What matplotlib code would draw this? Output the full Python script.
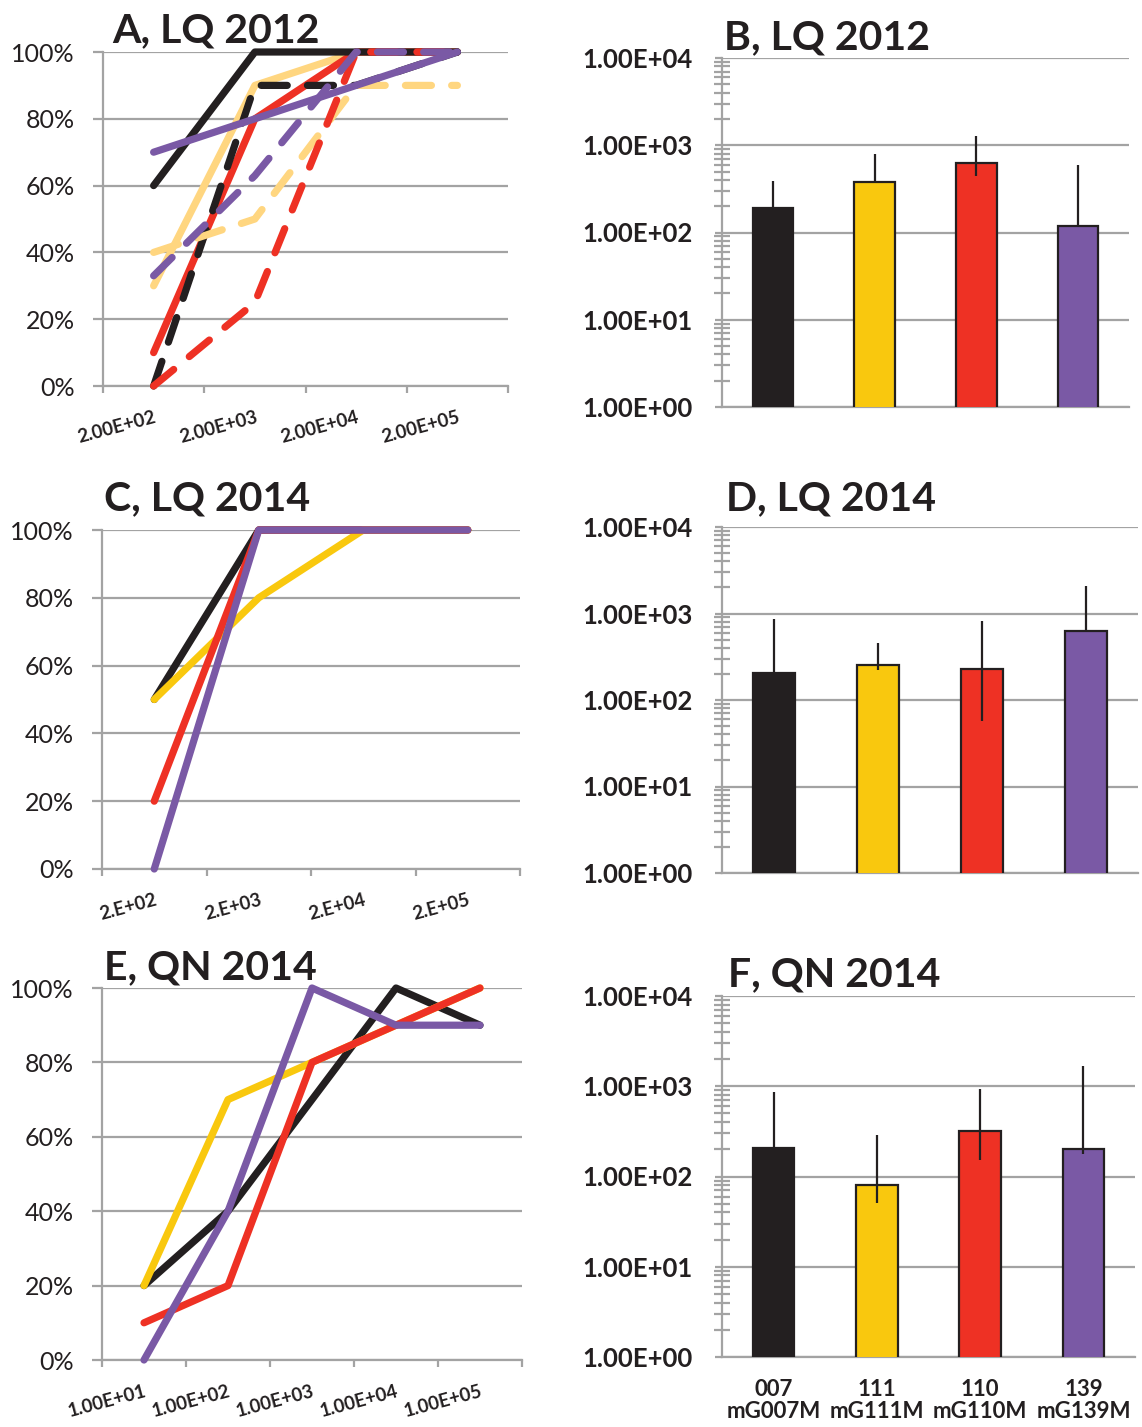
import matplotlib
matplotlib.use("Agg")
import matplotlib.pyplot as plt
import numpy as np
from matplotlib.ticker import LogLocator, NullFormatter

W, H = 1142, 1427
DPI = 100
plt.rcParams['font.family'] = ['Lato', 'DejaVu Sans']

# ---------------- data ----------------
# Panel A: LQ 2012 detection rate (%) by spike level
cats_a = ["2.00E+02", "2.00E+03", "2.00E+04", "2.00E+05"]
a_007_solid = [60, 100, 100, 100]
a_007_dash = [0, 90, 90, 100]
a_111_solid = [30, 90, 100, 100]
a_111_dash = [40, 50, 90, 90]
a_110_solid = [10, 80, 100, 100]
a_110_dash = [0, 25, 100, 100]
a_139_solid = [70, 80, 90, 100]
a_139_dash = [33, 63, 100, 100]

# Panel C: LQ 2014
cats_c = ["2.E+02", "2.E+03", "2.E+04", "2.E+05"]
c_007 = [50, 100, 100, 100]
c_111 = [50, 80, 100, 100]
c_110 = [20, 100, 100, 100]
c_139 = [0, 100, 100, 100]

# Panel E: QN 2014
cats_e = ["1.00E+01", "1.00E+02", "1.00E+03", "1.00E+04", "1.00E+05"]
e_007 = [20, 40, 70, 100, 90]
e_111 = [20, 70, 80, 90, 100]
e_110 = [10, 20, 80, 90, 100]
e_139 = [0, 40, 100, 90, 90]

# Bar panels: value, lower and upper error limits
bar_groups = ["007\nmG007M", "111\nmG111M", "110\nmG110M", "139\nmG139M"]
b_vals = [193, 380, 630, 119]
b_low = [193, 380, 445, 119]
b_high = [390, 800, 1270, 590]

d_vals = [204, 251, 226, 625]
d_low = [204, 224, 57, 605]
d_high = [860, 450, 810, 2090]

f_vals = [206, 80, 323, 202]
f_low = [206, 51, 153, 177]
f_high = [870, 289, 934, 1690]

# ---------------- style ----------------
BLACK = '#231F20'
GOLD = '#F9C80E'
LIGHT = '#FFD680'
RED = '#EE3124'
PURPLE = '#7A59A5'
GRID = '#A3A3A3'
TXT = '#231F20'

fig = plt.figure(figsize=(W / DPI, H / DPI), dpi=DPI)


def rect(x0, y0, x1, y1):
    return [x0 / W, 1 - y1 / H, (x1 - x0) / W, (y1 - y0) / H]


def title(x, baseline, text):
    fig.text(x / W, 1 - baseline / H, text, ha='left', va='baseline',
             fontsize=29.5, fontweight='bold', color=TXT)


def line_panel(r, cats, series):
    ax = fig.add_axes(rect(*r))
    n = len(cats)
    x = np.arange(n)
    for vals, color, dashed in series:
        ax.plot(x, vals, color=color, lw=5.2,
                linestyle=(0, (3.6, 2.8)) if dashed else '-',
                solid_capstyle='round', solid_joinstyle='round',
                dash_capstyle='round', dash_joinstyle='round',
                clip_on=False, zorder=3)
    ax.set_xlim(-0.5, n - 0.5)
    ax.set_ylim(0, 100)
    ax.set_yticks(range(0, 101, 20))
    ax.set_yticklabels([f"{v}%" for v in range(0, 101, 20)])
    ax.yaxis.grid(True, color=GRID, lw=1.6)
    ax.set_axisbelow(True)
    for s in ('top', 'right'):
        ax.spines[s].set_visible(False)
    for s in ('left', 'bottom'):
        ax.spines[s].set_color(GRID)
        ax.spines[s].set_linewidth(1.6)
    ax.set_xticks(x)
    ax.set_xticklabels(cats, rotation=15, ha='right', rotation_mode='anchor',
                       fontsize=13.5, fontweight='bold', color=TXT)
    ax.set_xticks(np.arange(n + 1) - 0.5, minor=True)
    ax.tick_params(axis='x', which='major', length=0, pad=16)
    ax.tick_params(axis='x', which='minor', length=5, width=1.6, color=GRID)
    ax.tick_params(axis='y', length=7, width=1.6, color=GRID, pad=13.5,
                   labelsize=18, labelcolor=TXT)
    return ax


def bar_panel(r, vals, low, high, labels=None):
    ax = fig.add_axes(rect(*r))
    x = np.arange(len(vals))
    vals = np.array(vals, float)
    ax.bar(x, vals, width=0.4, color=[BLACK, GOLD, RED, PURPLE],
           edgecolor=BLACK, linewidth=1.6, zorder=3)
    yerr = [vals - np.array(low, float), np.array(high, float) - vals]
    ax.errorbar(x, vals, yerr=yerr, fmt='none', ecolor=BLACK,
                elinewidth=1.6, capsize=0, zorder=4)
    ax.set_yscale('log')
    ax.set_ylim(1, 1e4)
    ax.set_xlim(-0.5, len(vals) - 0.5)
    ticks = [1, 10, 100, 1000, 10000]
    ax.set_yticks(ticks)
    ax.set_yticklabels([f"{t:.2E}" for t in ticks], fontweight='bold')
    ax.yaxis.set_minor_locator(LogLocator(base=10, subs=np.arange(2, 10)))
    ax.yaxis.set_minor_formatter(NullFormatter())
    ax.tick_params(axis='y', which='minor', direction='inout', length=11,
                   width=1.6, color=GRID)
    ax.tick_params(axis='y', which='major', direction='out', length=5,
                   width=1.6, color=GRID, labelsize=18.5, pad=16,
                   labelcolor=TXT)
    ax.yaxis.grid(True, which='major', color=GRID, lw=1.6)
    ax.set_axisbelow(True)
    for s in ('top', 'right'):
        ax.spines[s].set_visible(False)
    for s in ('left', 'bottom'):
        ax.spines[s].set_color(GRID)
        ax.spines[s].set_linewidth(1.6)
    if labels is None:
        ax.set_xticks([])
    else:
        ax.set_xticks(x)
        ax.set_xticklabels(labels, fontsize=16, fontweight='bold', color=TXT,
                           linespacing=1.05)
        ax.tick_params(axis='x', length=0, pad=16)
    return ax


# ---------------- left column: detection curves ----------------
line_panel((103, 52, 508, 386), cats_a, [
    (a_111_solid, LIGHT, False),
    (a_110_solid, RED, False),
    (a_007_solid, BLACK, False),
    (a_007_dash, BLACK, True),
    (a_111_dash, LIGHT, True),
    (a_110_dash, RED, True),
    (a_139_solid, PURPLE, False),
    (a_139_dash, PURPLE, True),
])
title(112, 42, "A, LQ 2012")

line_panel((102, 530, 520, 869), cats_c, [
    (c_007, BLACK, False),
    (c_111, GOLD, False),
    (c_110, RED, False),
    (c_139, PURPLE, False),
])
title(104, 510, "C, LQ 2014")

line_panel((102, 988, 522, 1360), cats_e, [
    (e_007, BLACK, False),
    (e_111, GOLD, False),
    (e_110, RED, False),
    (e_139, PURPLE, False),
])
title(104, 979, "E, QN 2014")

# ---------------- right column: bar charts ----------------
bar_panel((722, 58, 1129, 407), b_vals, b_low, b_high)
title(724, 49, "B, LQ 2012")

bar_panel((722, 527, 1138, 873), d_vals, d_low, d_high)
title(726, 510, "D, LQ 2014")

bar_panel((722, 996, 1135, 1357), f_vals, f_low, f_high, labels=bar_groups)
title(728, 986, "F, QN 2014")

fig.savefig("out.png", dpi=DPI)
